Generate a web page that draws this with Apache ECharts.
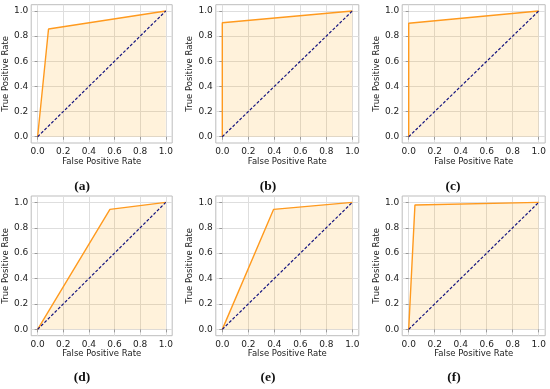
<!DOCTYPE html>
<html><head><meta charset="utf-8">
<script src="https://cdn.jsdelivr.net/npm/echarts@6/dist/echarts.min.js"></script>
<style>html,body{margin:0;padding:0;background:#fff}#c{width:550px;height:389px}</style>
</head><body><div id="c"></div>
<script>
// ROC data
const fprA = [0, 0.085, 1], tprA = [0, 0.857, 1];
const fprB = [0, 0, 1],     tprB = [0, 0.907, 1];
const fprC = [0, 0, 1],     tprC = [0, 0.902, 1];
const fprD = [0, 0.564, 1], tprD = [0, 0.945, 1];
const fprE = [0, 0.395, 1], tprE = [0, 0.945, 1];
const fprF = [0, 0.048, 1], tprF = [0, 0.979, 1];
const diagX = [0, 1], diagY = [0, 1];
const tickValues = [0, 0.2, 0.4, 0.6, 0.8, 1.0];
const panelLabels = ['(a)', '(b)', '(c)', '(d)', '(e)', '(f)'];
const xTitle = 'False Positive Rate';
const yTitle = 'True Positive Rate';

const fprs = [fprA, fprB, fprC, fprD, fprE, fprF];
const tprs = [tprA, tprB, tprC, tprD, tprE, tprF];

// layout (pixel frames)
const colL = [29.2, 215.8, 402.2];
const colR = [172.2, 358.8, 545.2];
const rowT = [4.7, 196];
const rowB = [143, 335.7];
const labelPos = [[82, 187], [268, 187], [453, 187], [82, 378], [268, 378], [454, 378]];

const grids = [], xAxes = [], yAxes = [], series = [], graphics = [];
const font = 'DejaVu Sans';
for (let i = 0; i < 6; i++) {
  const c = i % 3, r = Math.floor(i / 3);
  grids.push({left: colL[c], top: rowT[r], width: colR[c] - colL[c], height: rowB[r] - rowT[r],
    show: true, borderColor: '#bdbdbd', borderWidth: 1, backgroundColor: 'transparent'});
  const axisCommon = {
    gridIndex: i, type: 'value', min: -0.05, max: 1.05,
    axisLine: {show: false},
    axisTick: {show: true, length: 3, lineStyle: {color: '#9a9a9a'}, customValues: tickValues},
    axisLabel: {customValues: tickValues, formatter: v => v.toFixed(1), fontFamily: font, fontSize: 9, color: '#222'},
    splitLine: {show: true, lineStyle: {color: '#dedede', width: 1}},
    nameLocation: 'middle',
    nameTextStyle: {fontFamily: font, fontSize: 8.5, color: '#222'}
  };
  xAxes.push(Object.assign({}, axisCommon, {
    name: xTitle, nameGap: 13,
    axisLabel: Object.assign({}, axisCommon.axisLabel, {margin: 4})
  }));
  yAxes.push(Object.assign({}, axisCommon, {
    name: yTitle, nameGap: 19,
    axisLabel: Object.assign({}, axisCommon.axisLabel, {margin: 3})
  }));
  series.push({
    type: 'line', xAxisIndex: i, yAxisIndex: i,
    data: fprs[i].map((x, k) => [x, tprs[i][k]]),
    showSymbol: false, symbol: 'none',
    lineStyle: {color: '#ff9a1e', width: 1.4},
    areaStyle: {color: 'rgba(255,165,0,0.2)', origin: 0},
    z: 3, animation: false
  });
  series.push({
    type: 'line', xAxisIndex: i, yAxisIndex: i,
    data: diagX.map((x, k) => [x, diagY[k]]),
    showSymbol: false, symbol: 'none',
    lineStyle: {color: '#14147e', width: 1.2, type: [3, 1.8]},
    z: 4, animation: false
  });
  graphics.push({
    type: 'text', x: labelPos[i][0], y: labelPos[i][1],
    style: {text: panelLabels[i], font: 'bold 13.5px "Liberation Serif"', fill: '#111',
      textAlign: 'center', textVerticalAlign: 'middle'}
  });
}

const chart = echarts.init(document.getElementById('c'), null, {renderer: 'canvas'});
chart.setOption({
  animation: false,
  grid: grids, xAxis: xAxes, yAxis: yAxes, series: series, graphic: graphics
});
</script></body></html>
